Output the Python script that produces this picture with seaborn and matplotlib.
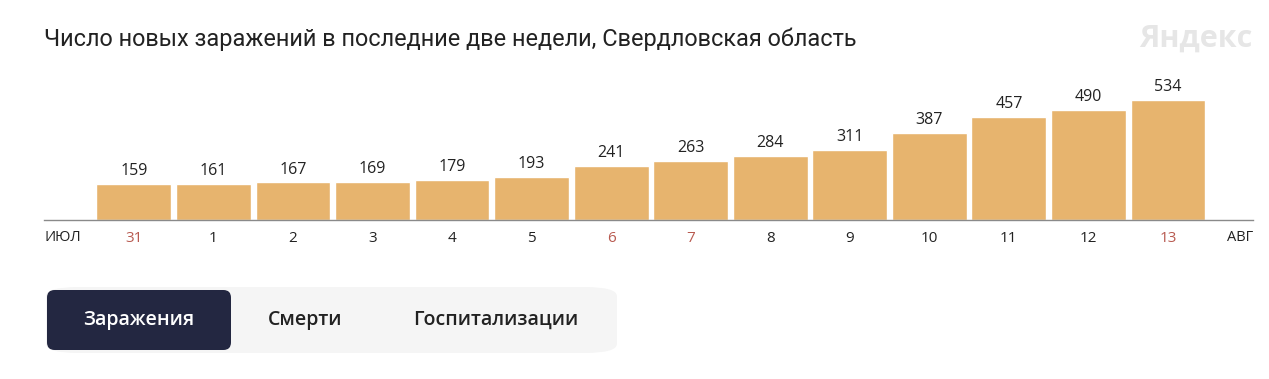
import matplotlib
matplotlib.use('Agg')
import pandas as pd
import seaborn as sns
import matplotlib.pyplot as plt
from matplotlib.patches import FancyBboxPatch

days = ['31', '1', '2', '3', '4', '5', '6', '7', '8', '9', '10', '11', '12', '13']
cases = [159, 161, 167, 169, 179, 193, 241, 263, 284, 311, 387, 457, 490, 534]
red_days = ['31', '6', '7', '13']
tabs = ['Заражения', 'Смерти', 'Госпитализации']

df = pd.DataFrame({'day': days, 'cases': cases})

sns.set_theme(style='white')
plt.rcParams['font.family'] = ['Open Sans', 'DejaVu Sans']

fig = plt.figure(figsize=(12.69, 3.79), dpi=100)
W, H = 1269, 379
ax = fig.add_axes([44 / W, 1 - 220 / H, (1253 - 44) / W, 160 / H])

sns.barplot(data=df, x='day', y='cases', color='#e7b46e', saturation=1,
            width=0.94, ax=ax)
ax.set_xlim(-1.13, 14.07)
ax.set_ylim(0, 712)
for p, v in zip(ax.patches, cases):
    ax.text(p.get_x() + p.get_width() / 2, v + 22, str(v), ha='center',
            va='bottom', fontsize=11.5, color='#222222')

for s in ['top', 'right', 'left']:
    ax.spines[s].set_visible(False)
ax.spines['bottom'].set_color('#8a8a8a')
ax.spines['bottom'].set_linewidth(1)
ax.set_yticks([])
ax.set_xlabel('')
ax.set_ylabel('')
ax.tick_params(axis='x', length=0, pad=8, labelsize=11)
for lbl in ax.get_xticklabels():
    lbl.set_color('#b85a50' if lbl.get_text() in red_days else '#222222')

fig.text(44 / W, 1 - 237 / H, 'ИЮЛ', ha='left', va='center', fontsize=10.5, color='#222222')
fig.text(1253 / W, 1 - 237 / H, 'АВГ', ha='right', va='center', fontsize=10.5, color='#222222')

fig.text(44 / W, 1 - 39 / H, 'Число новых заражений в последние две недели, Свердловская область',
         ha='left', va='center', fontsize=16.9, color='#222222', family=['Roboto', 'DejaVu Sans'])
fig.text(1252 / W, 1 - 39 / H, 'Яндекс', ha='right', va='center', fontsize=22,
         fontweight='bold', color='#e6e6e6')

# tab switcher
bg = FancyBboxPatch((46 / W, 1 - 353 / H), (617 - 46) / W, 66 / H,
                    boxstyle='round,pad=0,rounding_size=0.025', transform=fig.transFigure,
                    facecolor='#f5f5f5', edgecolor='none', mutation_aspect=H / W * 3.3)
fig.add_artist(bg)
sel = FancyBboxPatch((47 / W, 1 - 350 / H), (231 - 47) / W, 60 / H,
                     boxstyle='round,pad=0,rounding_size=0.006', transform=fig.transFigure,
                     facecolor='#232741', edgecolor='none', mutation_aspect=W / H)
fig.add_artist(sel)
for name, cx, col in zip(tabs, [139, 305, 496], ['white', '#222222', '#222222']):
    fig.text(cx / W, 1 - 320 / H, name, ha='center', va='center', fontsize=14,
             fontweight='semibold', color=col)

fig.savefig('out.png', dpi=100)
